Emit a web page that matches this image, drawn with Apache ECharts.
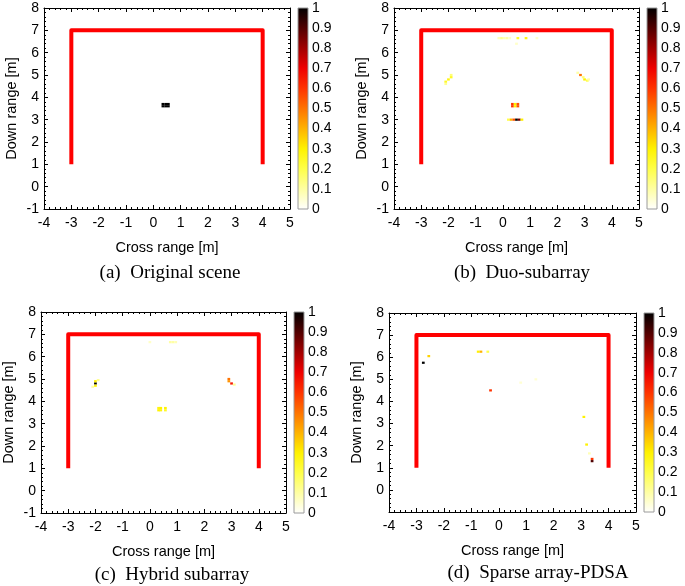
<!DOCTYPE html>
<html><head><meta charset="utf-8">
<script src="https://cdn.jsdelivr.net/npm/echarts@6/dist/echarts.min.js"></script>
<style>html,body{margin:0;padding:0;background:#fff}#c{width:685px;height:586px}</style>
</head><body><div id="c"></div>
<script>
// ---- data ----
const wallX = [-3, -3, 4, 4];
const wallY = [1, 7, 7, 1];
// [cross range, down range, normalised intensity]
const cellsA = [
  [0.35,3.7,1],[0.45,3.7,1],[0.55,3.7,1],
  [0.35,3.6,1],[0.45,3.6,1],[0.55,3.6,1]
];
const cellsB = [
  [0.35,3.7,0.6],[0.45,3.7,0.3],[0.55,3.7,0.55],
  [0.35,3.6,0.6],[0.45,3.6,0.3],[0.55,3.6,0.55],
  [0.2,3.0,0.2],[0.3,3.0,0.4],[0.4,3.0,0.55],[0.5,3.0,1.0],[0.6,3.0,0.85],[0.7,3.0,0.3],
  [-0.15,6.65,0.08],[-0.05,6.65,0.12],[0.05,6.65,0.08],[0.15,6.65,0.1],[0.25,6.65,0.06],
  [0.55,6.65,0.25],[0.85,6.65,0.28],[1.25,6.65,0.06],[0.5,6.4,0.06],
  [-1.9,5.0,0.15],[-1.9,4.9,0.25],[-2.0,4.8,0.28],[-2.1,4.7,0.25],[-2.1,4.6,0.12],
  [2.75,5.1,0.1],[2.85,5.0,0.5],[2.95,4.9,0.15],[3.0,4.8,0.3],[3.1,4.75,0.2],[3.15,4.8,0.1]
];
const cellsC = [
  [-2.0,4.8,1.0],[-2.0,4.9,0.3],[-2.0,4.7,0.3],[-1.9,4.95,0.12],[-2.1,4.65,0.1],
  [2.9,5.0,0.5],[2.9,4.9,0.45],[3.0,4.8,0.65],[3.1,4.75,0.12],
  [0.32,3.7,0.28],[0.4,3.7,0.3],[0.32,3.6,0.3],[0.4,3.6,0.28],[0.57,3.7,0.3],[0.57,3.6,0.25],
  [0.0,6.65,0.06],[0.75,6.65,0.1],[0.85,6.65,0.1],[0.95,6.65,0.08]
];
const cellsD = [
  [-2.75,5.75,1.0],[-2.55,6.05,0.35],
  [-0.75,6.25,0.3],[-0.65,6.25,0.4],[-0.4,6.25,0.2],
  [-0.3,4.5,0.6],[0.8,4.85,0.05],[1.35,5.0,0.05],
  [3.1,3.3,0.3],[3.2,2.05,0.3],[3.3,1.65,0.08],[3.4,1.4,0.6],[3.4,1.3,0.9]
];
const captions = ['(a)  Original scene', '(b)  Duo-subarray', '(c)  Hybrid subarray', '(d)  Sparse array-PDSA'];
const xName = 'Cross range [m]';
const yName = 'Down range [m]';
// reversed "hot"-style colormap, colours at 0, 0.1, ..., 1
const hotColors = ['#ffffff','#ffffa4','#ffff49','#fff200','#ffb300','#ff7300','#ff3300','#ef0000','#a00000','#500000','#000000'];

// ---- layout ----
const panels = [
  {cells: cellsA, g:[44,8,246,201], cb:[298,8,10,201], cap:[170,273], hideMinus1:false},
  {cells: cellsB, g:[394,8,245,201], cb:[647,8,10,201], cap:[522,273], hideMinus1:false},
  {cells: cellsC, g:[41,312,245,201], cb:[294,312,10,201], cap:[172,575], hideMinus1:false},
  {cells: cellsD, g:[389,313,247,199], cb:[644,313,10,199], cap:[538,573], hideMinus1:true}
];

const FONT = 'Liberation Sans';
const lbl = {color:'#000', fontFamily:FONT, fontSize:14};
function frameAxis(min, max, pos, gridIndex, showLabel, extra) {
  return Object.assign({
    type:'value', min:min, max:max, interval:1, position:pos, gridIndex:gridIndex,
    axisLine:{show:true, onZero:false, lineStyle:{color:'#000', width:1}},
    axisTick:{show:true, inside:true, length:4, lineStyle:{color:'#000'}},
    minorTick:{show:true, splitNumber:5, length:2, lineStyle:{color:'#000'}},
    splitLine:{show:false},
    axisLabel:Object.assign({show:showLabel}, lbl)
  }, extra || {});
}

const grid = [], xAxis = [], yAxis = [], series = [], visualMap = [], graphic = [];
const cellSize = 0.1;
panels.forEach((p, i) => {
  grid.push({left:p.g[0], top:p.g[1], width:p.g[2], height:p.g[3]});
  grid.push({left:p.cb[0], top:p.cb[1], width:p.cb[2], height:p.cb[3]});
  const gi = 2*i, ci = 2*i+1;
  xAxis.push(frameAxis(-4, 5, 'bottom', gi, true, {
    name:xName, nameLocation:'middle', nameGap:31,
    nameTextStyle:{color:'#000', fontFamily:FONT, fontSize:14.5},
    axisLabel:Object.assign({show:true, margin:7}, lbl)
  }));
  xAxis.push(frameAxis(-4, 5, 'top', gi, false));
  xAxis.push({type:'value', min:0, max:1, gridIndex:ci, show:false});
  yAxis.push(frameAxis(-1, 8, 'left', gi, true, {
    name:yName, nameLocation:'middle', nameGap:25,
    nameTextStyle:{color:'#000', fontFamily:FONT, fontSize:14.5},
    axisLabel:Object.assign({show:true, margin:5,
      formatter: v => (p.hideMinus1 && v === -1) ? '' : String(v)}, lbl)
  }));
  yAxis.push(frameAxis(-1, 8, 'right', gi, false));
  yAxis.push({type:'value', min:0, max:1, interval:0.1, gridIndex:ci, position:'right',
    axisLine:{show:false}, axisTick:{show:false}, splitLine:{show:false},
    axisLabel:Object.assign({margin:4, formatter: v => String(Math.round(v*10)/10)}, lbl)});
  const xa = 3*i, ya = 3*i;
  series.push({
    type:'line', xAxisIndex:xa, yAxisIndex:ya, symbol:'none', silent:true,
    data: wallX.map((x, k) => [x, wallY[k]]),
    lineStyle:{color:'#ff0000', width:4, join:'round', cap:'butt'}, z:3
  });
  const cellSeriesIndex = series.length;
  series.push({
    type:'custom', xAxisIndex:xa, yAxisIndex:ya, data:p.cells, z:2,
    renderItem:(params, api) => {
      const c = api.coord([api.value(0), api.value(1)]);
      const s = api.size([cellSize, cellSize]);
      return {type:'rect', shape:{x:c[0]-s[0]/2, y:c[1]-s[1]/2, width:s[0], height:s[1]},
        style:{fill:api.visual('color')}};
    }
  });
  visualMap.push({show:false, type:'continuous', min:0, max:1, dimension:2,
    seriesIndex:cellSeriesIndex, inRange:{color:hotColors}});
  series.push({
    type:'custom', xAxisIndex:3*i+2, yAxisIndex:3*i+2, data:[[0,0]], silent:true,
    renderItem:(params, api) => {
      const a = api.coord([0,0]), b = api.coord([1,1]);
      return {type:'rect', shape:{x:a[0], y:b[1], width:b[0]-a[0], height:a[1]-b[1]},
        style:{fill:new echarts.graphic.LinearGradient(0,1,0,0,
          hotColors.map((c,k)=>({offset:k/(hotColors.length-1), color:c}))),
          stroke:'#9a9a9a', lineWidth:1}};
    }
  });
  graphic.push({type:'text', x:p.cap[0], y:p.cap[1], silent:true,
    style:{text:captions[i], textAlign:'center', textVerticalAlign:'middle',
      font:'19px "Liberation Serif"', fill:'#000'}});
});

const chart = echarts.init(document.getElementById('c'), null, {renderer:'canvas'});
chart.setOption({
  animation:false, backgroundColor:'#fff',
  grid, xAxis, yAxis, series, visualMap, graphic
});
</script></body></html>
